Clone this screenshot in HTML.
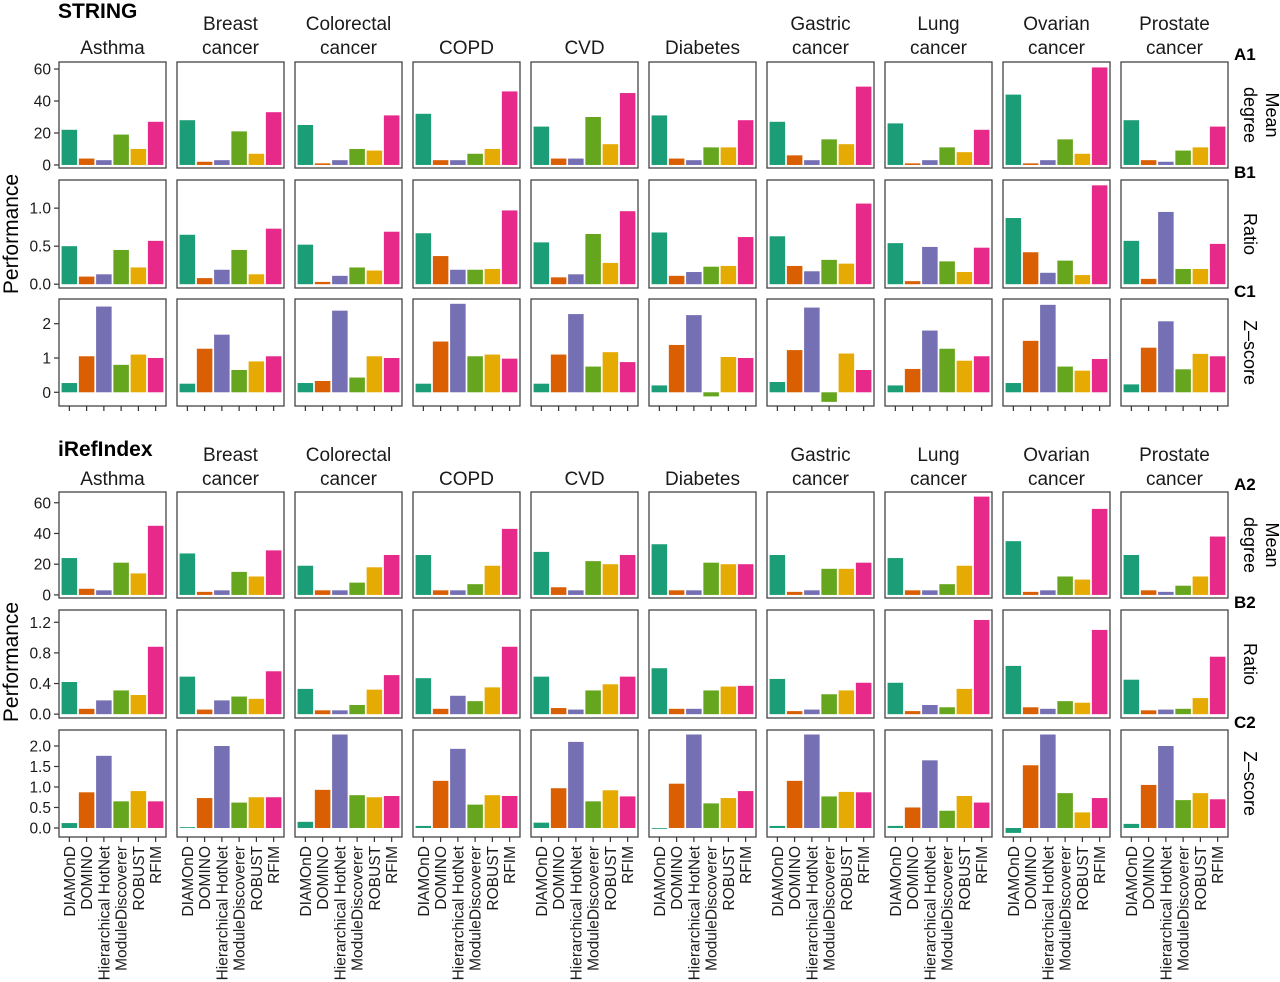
<!DOCTYPE html>
<html><head><meta charset="utf-8"><style>
html,body{margin:0;padding:0;background:#fff;}
svg{display:block;font-family:"Liberation Sans",Arial,sans-serif;}
</style></head><body>
<svg id="chart" width="1280" height="982" viewBox="0 0 1280 982" xmlns="http://www.w3.org/2000/svg"></svg>
<script>
const diseases = [["Asthma"],["Breast","cancer"],["Colorectal","cancer"],["COPD"],["CVD"],["Diabetes"],["Gastric","cancer"],["Lung","cancer"],["Ovarian","cancer"],["Prostate","cancer"]];
const methods = ["DIAMOnD","DOMINO","Hierarchical HotNet","ModuleDiscoverer","ROBUST","RFIM"];
const colors = ["#1B9E77","#D95F02","#7570B3","#66A61E","#E6AB02","#E7298A"];

const stringMean = [
[22,4,3,19,10,27],[28,2,3,21,7,33],[25,1,3,10,9,31],[32,3,3,7,10,46],[24,4,4,30,13,45],
[31,4,3,11,11,28],[27,6,3,16,13,49],[26,1,3,11,8,22],[44,1,3,16,7,61],[28,3,2,9,11,24]];
const stringRatio = [
[0.5,0.1,0.13,0.45,0.22,0.57],[0.65,0.08,0.19,0.45,0.13,0.73],[0.52,0.03,0.11,0.22,0.18,0.69],
[0.67,0.37,0.19,0.19,0.2,0.97],[0.55,0.09,0.13,0.66,0.28,0.96],[0.68,0.11,0.16,0.23,0.24,0.62],
[0.63,0.24,0.17,0.32,0.27,1.06],[0.54,0.04,0.49,0.3,0.16,0.48],[0.87,0.42,0.15,0.31,0.12,1.3],
[0.57,0.07,0.95,0.2,0.2,0.53]];
const stringZ = [
[0.27,1.05,2.5,0.8,1.1,1.0],[0.25,1.27,1.68,0.65,0.9,1.05],[0.27,0.33,2.38,0.43,1.05,1.0],
[0.25,1.48,2.58,1.05,1.1,0.98],[0.25,1.1,2.28,0.75,1.17,0.88],[0.2,1.38,2.25,-0.12,1.03,1.0],
[0.3,1.23,2.47,-0.28,1.13,0.65],[0.2,0.68,1.8,1.27,0.92,1.05],[0.27,1.5,2.55,0.75,0.63,0.97],
[0.23,1.3,2.07,0.67,1.12,1.05]];
const irefMean = [
[24,4,3,21,14,45],[27,2,3,15,12,29],[19,3,3,8,18,26],[26,3,3,7,19,43],[28,5,3,22,20,26],
[33,3,3,21,20,20],[26,2,3,17,17,21],[24,3,3,7,19,64],[35,2,3,12,10,56],[26,3,2,6,12,38]];
const irefRatio = [
[0.42,0.07,0.18,0.31,0.25,0.88],[0.49,0.06,0.18,0.23,0.2,0.56],[0.33,0.05,0.05,0.12,0.32,0.51],
[0.47,0.07,0.24,0.17,0.35,0.88],[0.49,0.08,0.06,0.31,0.39,0.49],[0.6,0.07,0.07,0.31,0.36,0.37],
[0.46,0.04,0.06,0.26,0.31,0.41],[0.41,0.04,0.12,0.09,0.33,1.23],[0.63,0.09,0.07,0.17,0.15,1.1],
[0.45,0.05,0.06,0.07,0.21,0.75]];
const irefZ = [
[0.12,0.87,1.76,0.65,0.9,0.65],[0.02,0.73,2.0,0.62,0.75,0.75],[0.15,0.93,2.28,0.8,0.75,0.78],
[0.05,1.15,1.93,0.57,0.8,0.78],[0.13,0.97,2.1,0.65,0.92,0.77],[0.0,1.08,2.28,0.6,0.73,0.9],
[0.05,1.15,2.28,0.77,0.88,0.87],[0.05,0.5,1.65,0.42,0.78,0.62],[-0.12,1.53,2.28,0.85,0.38,0.73],
[0.1,1.05,2.0,0.68,0.85,0.7]];

const tickMean1 = [0,20,40,60], tickRatio1 = [0,0.5,1.0], tickZ1 = [0,1,2];
const tickMean2 = [0,20,40,60], tickRatio2 = [0,0.4,0.8,1.2], tickZ2 = [0,0.5,1,1.5,2];

const NS="http://www.w3.org/2000/svg";
const svg=document.getElementById('chart');
function mk(tag,attrs,parent){const e=document.createElementNS(NS,tag);for(const k in attrs)e.setAttribute(k,attrs[k]);(parent||svg).appendChild(e);return e;}
function txt(s,attrs,parent){const e=mk('text',attrs,parent);e.textContent=s;return e;}

const PX0=59, PSTEP=118, PW=107;
const rows=[
 {t:62,b:168,lo:-1.9,hi:64.4,ticks:tickMean1,fmt:v=>String(v),data:stringMean,lab:["Mean","degree"],code:"A1",name:"string-mean-degree"},
 {t:180,b:288,lo:-0.05,hi:1.37,ticks:tickRatio1,fmt:v=>v.toFixed(1),data:stringRatio,lab:["Ratio"],code:"B1",name:"string-ratio"},
 {t:299,b:406,lo:-0.4,hi:2.72,ticks:tickZ1,fmt:v=>String(v),data:stringZ,lab:["Z\u2013score"],code:"C1",name:"string-zscore",xt:true},
 {t:492,b:598,lo:-2,hi:67,ticks:tickMean2,fmt:v=>String(v),data:irefMean,lab:["Mean","degree"],code:"A2",name:"iref-mean-degree"},
 {t:610,b:718,lo:-0.05,hi:1.36,ticks:tickRatio2,fmt:v=>v.toFixed(1),data:irefRatio,lab:["Ratio"],code:"B2",name:"iref-ratio"},
 {t:730,b:837,lo:-0.22,hi:2.39,ticks:tickZ2,fmt:v=>v.toFixed(1),data:irefZ,lab:["Z\u2013score"],code:"C2",name:"iref-zscore",xt:true,xl:true}
];

function xCenter(p,k){return PX0+p*PSTEP+(k+0.6)/6.2*PW;}
const BW=0.9/6.2*PW;

let t=txt("STRING",{x:58,y:18,'font-size':21,'font-weight':'bold'});

t=txt("iRefIndex",{x:58,y:456,'font-size':21,'font-weight':'bold'});


[[0,54],[431,485]].forEach(([off,base],blk)=>{
 diseases.forEach((d,p)=>{
  const cx=PX0+p*PSTEP+PW/2;
  d.forEach((line,i)=>{
   const y= d.length===1? base : (i===0? base-24: base);
   const e=txt(line,{x:cx,y:y,'font-size':19,'text-anchor':'middle',fill:'#1a1a1a'});
   
  });
 });
});

[[234],[662]].forEach(([cy])=>{
 const e=txt("Performance",{x:0,y:0,'font-size':21,'text-anchor':'middle',transform:`translate(18,${cy}) rotate(-90)`});
 
});

rows.forEach(r=>{
 const y=v=>r.b-(v-r.lo)/(r.hi-r.lo)*(r.b-r.t);
 r.ticks.forEach(v=>{
  const yy=y(v);
  const l=mk('line',{x1:PX0-5,x2:PX0,y1:yy,y2:yy,stroke:'#333','stroke-width':1.2});
  
  const e=txt(r.fmt(v),{x:PX0-8,y:yy+5.5,'font-size':15.5,'text-anchor':'end',fill:'#1a1a1a'});
  
 });
 const c=txt(r.code,{x:1234,y:r.t-2,'font-size':17,'font-weight':'bold'});
 
 const cy=(r.t+r.b)/2;
 if(r.lab.length===2){
  let e=txt(r.lab[0],{x:0,y:0,'font-size':18,'text-anchor':'middle',transform:`translate(1266,${cy}) rotate(90)`});
  
  e=txt(r.lab[1],{x:0,y:0,'font-size':18,'text-anchor':'middle',transform:`translate(1244,${cy}) rotate(90)`});
  
 } else {
  const e=txt(r.lab[0],{x:0,y:0,'font-size':18,'text-anchor':'middle',transform:`translate(1244,${cy}) rotate(90)`});
  
 }
 diseases.forEach((d,p)=>{
  const g=mk('g',{});
  
  
  const x0=PX0+p*PSTEP;
  r.data[p].forEach((v,k)=>{
   const y0=y(0), yv=y(v);
   const b=mk('rect',{x:xCenter(p,k)-BW/2,y:Math.min(y0,yv),width:BW,height:Math.max(0.8,Math.abs(y0-yv)),fill:colors[k]},g);
   
   
  });
  const fr=mk('rect',{x:x0,y:r.t,width:PW,height:r.b-r.t,fill:'none',stroke:'#444','stroke-width':1.3},g);
  
  if(r.xt){
   methods.forEach((m,k)=>{
    const xc=xCenter(p,k);
    const l=mk('line',{x1:xc,x2:xc,y1:r.b,y2:r.b+5,stroke:'#333','stroke-width':1.2},g);
    
    if(r.xl){
     const e=txt(m,{x:0,y:0,'font-size':15.5,'text-anchor':'end',fill:'#1a1a1a',transform:`translate(${xc+5.5},${r.b+9}) rotate(-90)`},g);
     
    }
   });
  }
 });
});
</script>
</body></html>
